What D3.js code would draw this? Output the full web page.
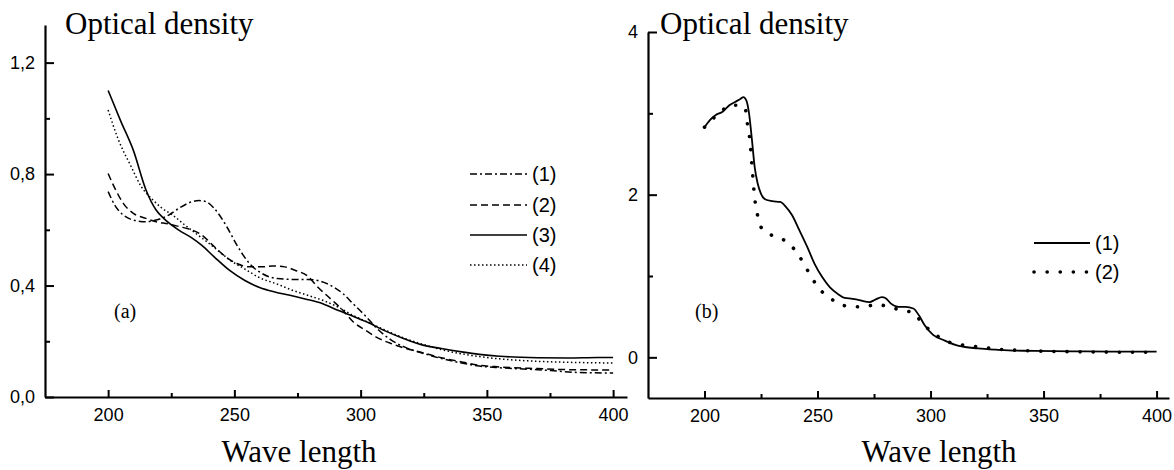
<!DOCTYPE html>
<html><head><meta charset="utf-8">
<script src="https://cdn.jsdelivr.net/npm/d3@7"></script>
<style>
body{margin:0;background:#fff;}
svg{display:block;}
.tick text{font-family:"Liberation Sans",Arial,sans-serif;font-size:18px;fill:#000;}
</style></head><body>
<svg id="chart" width="1174" height="470"></svg>
<script>
// ---- Panel (a) data ----
const xTicks = [200, 250, 300, 350, 400];
const xMinorTicks = [225, 275, 325, 375];
const aYTicks = [0, 0.4, 0.8, 1.2];
const aYMinorTicks = [0.2, 0.6, 1.0];
const aYTickLabels = ["0,0", "0,4", "0,8", "1,2"];
const aLegend = ["(1)", "(2)", "(3)", "(4)"];

const aWave1 = [200,203,206,210,215,219,224,228,233,236,239,242,247,251,256,261,267,273,279,283,288,293,297,302,306,312,318,325,332,340,347,355,363,370,378,386,400];
const aOD1   = [0.737,0.683,0.653,0.635,0.629,0.635,0.653,0.677,0.700,0.705,0.700,0.677,0.611,0.545,0.479,0.443,0.425,0.422,0.422,0.418,0.401,0.371,0.335,0.290,0.250,0.205,0.177,0.156,0.138,0.122,0.111,0.105,0.101,0.098,0.093,0.088,0.086];

const aWave2 = [200,203,206,210,215,219,224,228,233,237,242,247,251,256,261,265,270,274,279,283,288,293,297,302,306,312,318,325,332,340,347,355,370,383,400];
const aOD2   = [0.802,0.743,0.695,0.659,0.641,0.629,0.621,0.612,0.600,0.582,0.540,0.500,0.479,0.467,0.467,0.470,0.467,0.455,0.434,0.395,0.353,0.311,0.270,0.239,0.216,0.192,0.174,0.158,0.141,0.126,0.114,0.108,0.102,0.098,0.097];

const aWave3 = [200,205,210,215,219,222,228,233,237,242,248,254,260,266,272,278,285,291,297,303,309,317,324,332,340,347,355,370,382,394,400];
const aOD3   = [1.10,0.99,0.885,0.743,0.671,0.641,0.599,0.572,0.545,0.503,0.455,0.419,0.393,0.377,0.365,0.352,0.335,0.311,0.290,0.267,0.240,0.210,0.188,0.174,0.162,0.153,0.146,0.141,0.140,0.142,0.142];

const aWave4 = [200,204,209,213,218,221,226,230,235,239,244,248,254,260,267,273,279,285,291,297,303,309,317,325,332,340,347,355,370,385,400];
const aOD4   = [1.03,0.925,0.829,0.757,0.705,0.680,0.650,0.620,0.585,0.558,0.522,0.493,0.460,0.428,0.405,0.383,0.365,0.347,0.323,0.293,0.268,0.243,0.212,0.188,0.170,0.155,0.145,0.137,0.128,0.124,0.122];

// ---- Panel (b) data ----
const bYTicks = [0, 2, 4];
const bYMinorTicks = [1, 3];
const bLegend = ["(1)", "(2)"];

const bWave1 = [200,202.5,205,208,211,213.5,216,217.2,218.5,219.7,221,222.2,223.5,225,227,230,233.5,236,238.7,242,245.4,248.7,252,255.5,259,262,265.5,269,273,275.6,278.5,280,282.5,285.7,289,292.4,295,297.5,301,306,312.5,321,329,338,346,363,380,400];
const bOD1   = [2.83,2.92,2.98,3.02,3.10,3.14,3.18,3.20,3.16,3.00,2.67,2.34,2.14,2.01,1.94,1.92,1.91,1.85,1.75,1.56,1.36,1.15,0.99,0.86,0.78,0.73,0.72,0.70,0.68,0.71,0.74,0.73,0.66,0.62,0.62,0.60,0.51,0.39,0.28,0.21,0.14,0.11,0.094,0.082,0.080,0.074,0.070,0.070];

const bWave2 = [200,206,212,216,218,219,220,220.6,221.1,222.2,223.3,225,230.5,237,242,246,250,256,263,270,276.5,282.5,289,292.5,296,301.7,306,312.6,321,330,340,350,365,380,400];
const bOD2   = [2.83,2.99,3.10,3.10,3.06,2.87,2.69,2.50,2.32,1.96,1.77,1.60,1.49,1.41,1.24,1.05,0.87,0.72,0.63,0.62,0.65,0.61,0.57,0.55,0.43,0.29,0.21,0.16,0.13,0.10,0.085,0.075,0.068,0.064,0.062];

// ---- drawing ----
const svg = d3.select("#chart");
svg.append("rect").attr("width",1174).attr("height",470).attr("fill","#fff");

const serif = '"Liberation Serif","Times New Roman",serif';
const sans = '"Liberation Sans",Arial,sans-serif';

function zip(w, v){ return w.map((d,i)=>[d, v[i]]); }

function panel(cfg){
  const g = svg.append("g");
  const x = d3.scaleLinear().domain([175, 405.5]).range(cfg.xRange);
  const y = d3.scaleLinear().domain(cfg.yDomain).range(cfg.yRange);
  const x0 = cfg.xRange[0], yb = cfg.yRange[0];

  // x axis
  const xa = g.append("g").attr("transform",`translate(0,${yb})`)
    .call(d3.axisBottom(x).tickValues(xTicks).tickSizeInner(-7).tickSizeOuter(0).tickPadding(11));
  g.append("g").attr("transform",`translate(0,${yb})`)
    .call(d3.axisBottom(x).tickValues(xMinorTicks).tickSizeInner(-4).tickSizeOuter(0).tickFormat(""))
    .select(".domain").remove();
  // y axis
  const ya = g.append("g").attr("transform",`translate(${x0},0)`)
    .call(d3.axisLeft(y).tickValues(cfg.yTicks).tickSizeInner(-9).tickSizeOuter(0).tickPadding(10)
      .tickFormat((d,i)=>cfg.yLabels[i]));
  g.append("g").attr("transform",`translate(${x0},0)`)
    .call(d3.axisLeft(y).tickValues(cfg.yMinor).tickSizeInner(-5).tickSizeOuter(0).tickFormat(""))
    .select(".domain").remove();
  g.selectAll(".domain").attr("stroke","#000").attr("stroke-width",2.2);
  g.selectAll(".tick line").attr("stroke","#000").attr("stroke-width",2);

  const line = d3.line().x(d=>x(d[0])).y(d=>y(d[1])).curve(d3.curveMonotoneX);
  cfg.series.forEach(s=>{
    g.append("path").datum(zip(s.w, s.v)).attr("d", line)
      .attr("fill","none").attr("stroke","#000")
      .attr("stroke-width", s.sw).attr("stroke-dasharray", s.dash)
      .attr("stroke-linecap", s.cap || "butt");
  });

  // legend
  cfg.series.forEach((s,i)=>{
    const ly = cfg.legendY[i];
    g.append("line").attr("x1",cfg.legendX[0]).attr("x2",cfg.legendX[1]).attr("y1",ly).attr("y2",ly)
      .attr("stroke","#000").attr("stroke-width",s.sw).attr("stroke-dasharray",s.dash)
      .attr("stroke-linecap", s.cap || "butt");
    g.append("text").attr("x",cfg.legendX[1]+5).attr("y",ly).attr("dy","0.35em")
      .attr("font-family",sans).attr("font-size",20).text(cfg.legendLabels[i]);
  });

  g.append("text").attr("x",cfg.titleX).attr("y",34).attr("font-family",serif).attr("font-size",31).text("Optical density");
  g.append("text").attr("x",cfg.xTitleX).attr("y",462).attr("text-anchor","middle").attr("font-family",serif).attr("font-size",31).text("Wave length");
  g.append("text").attr("x",cfg.tagX).attr("y",318).attr("font-family",serif).attr("font-size",20).text(cfg.tag);
}

panel({
  xRange:[45,627], yDomain:[0,1.335], yRange:[397,25],
  yTicks:aYTicks, yMinor:aYMinorTicks, yLabels:aYTickLabels,
  series:[
    {w:aWave1, v:aOD1, sw:1.5, dash:"7,3,2,3"},
    {w:aWave2, v:aOD2, sw:1.5, dash:"7,4"},
    {w:aWave3, v:aOD3, sw:1.6, dash:null},
    {w:aWave4, v:aOD4, sw:1.5, dash:"1.5,2.5"}
  ],
  legendX:[470,527], legendY:[174,205,235,265], legendLabels:aLegend,
  titleX:65, xTitleX:299, tagX:114, tag:"(a)"
});

panel({
  xRange:[648,1169], yDomain:[-0.5,4], yRange:[398,32],
  yTicks:bYTicks, yMinor:bYMinorTicks, yLabels:["0","2","4"],
  series:[
    {w:bWave1, v:bOD1, sw:1.8, dash:null},
    {w:bWave2, v:bOD2, sw:3.6, dash:"0.1,13", cap:"round"}
  ],
  legendX:[1034,1090], legendY:[243,272], legendLabels:bLegend,
  titleX:660, xTitleX:939, tagX:695, tag:"(b)"
});
</script>
</body></html>
